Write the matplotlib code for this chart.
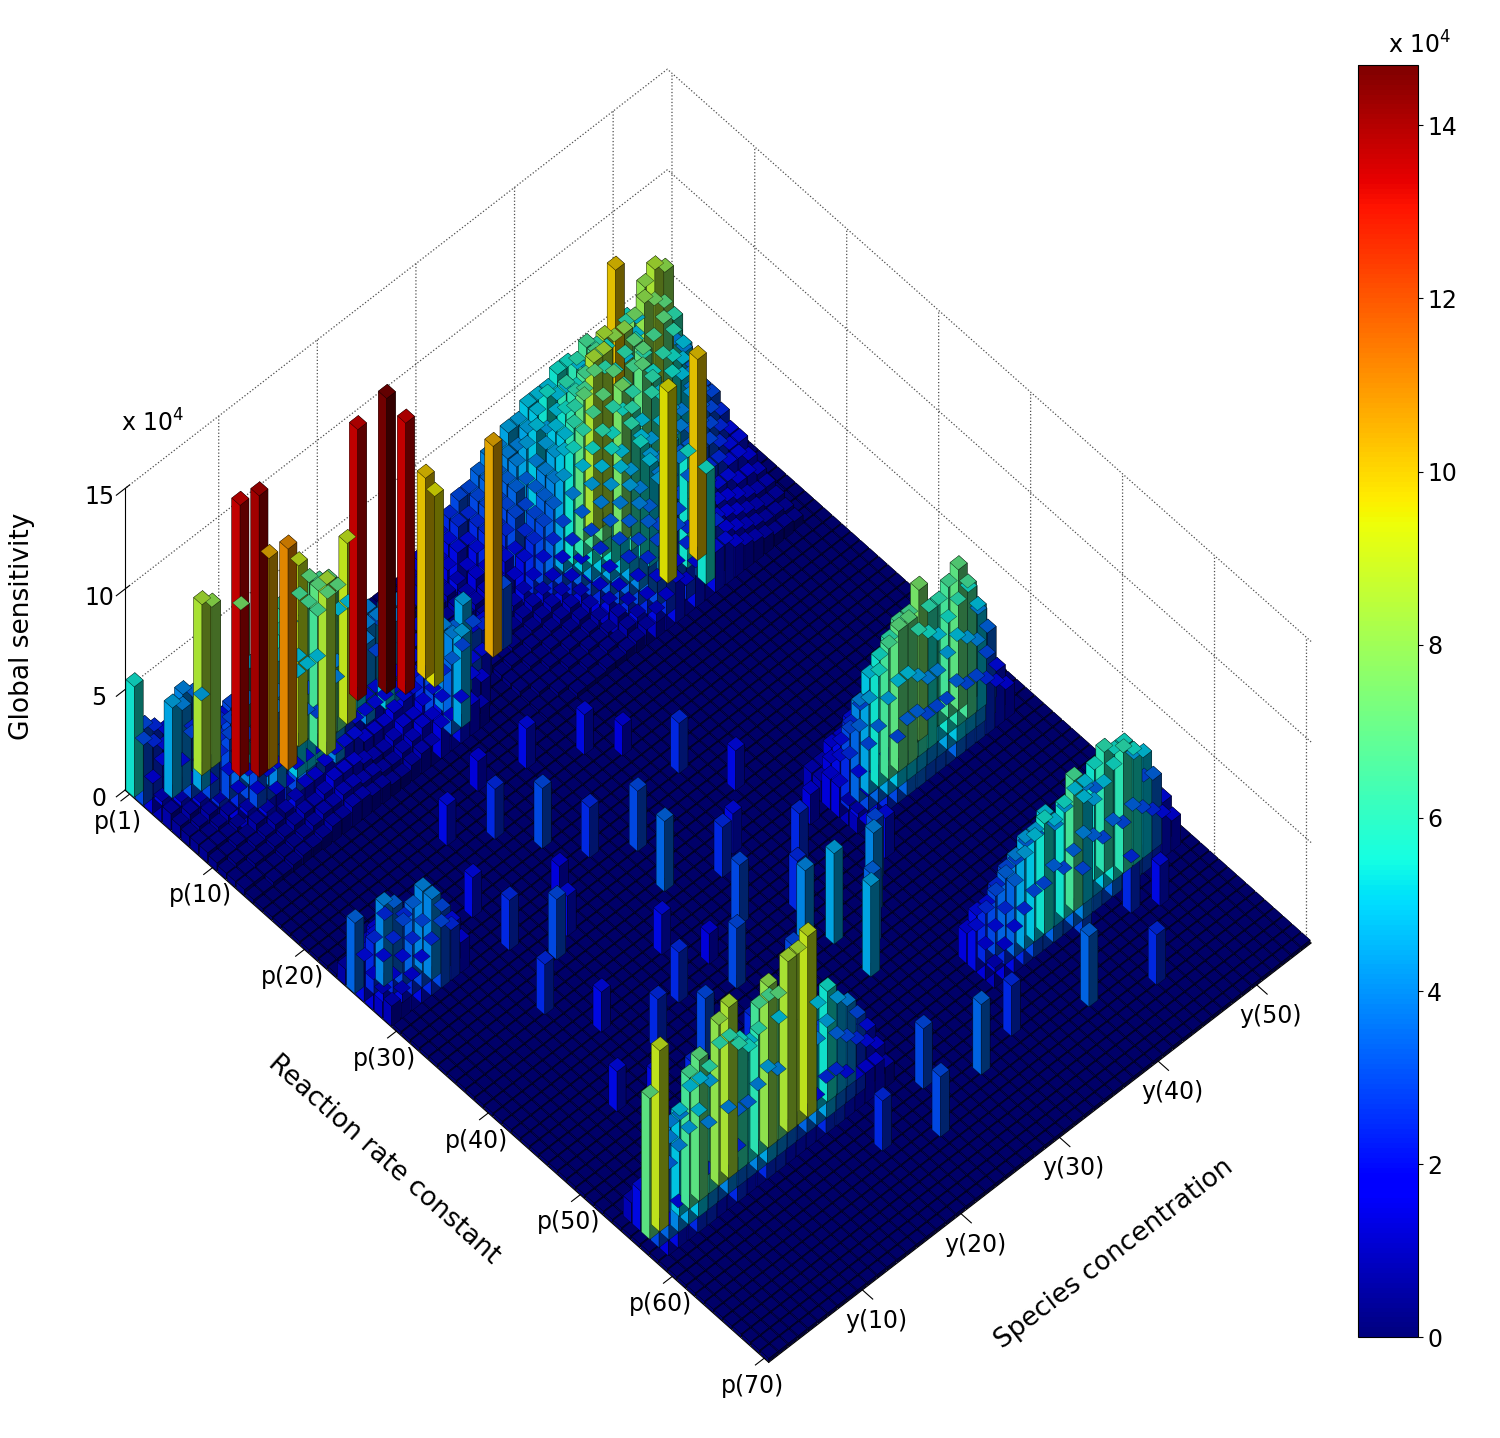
import numpy as np
import matplotlib
matplotlib.use("Agg")
import matplotlib.pyplot as plt
from matplotlib import cm, colors

n_p, n_y = 70, 55
floor_level = 0.15  # x 10^4

# Cluster A: front-left, rows start at p=1, columns start at y=1
clusterA_p0, clusterA_y0 = 1, 1
clusterA = [
    [5.5, 3, 2.5, 2, 1.5, 1.2, 1, .8, .6, .5, .5, .4, .4, .4, .4],
    [3, 2.5, 2, 1.8, 4, 3.5, 2, 1.5, 1, .8, .6, .5, .5, .5],
    [1.5, 2, 4.5, 4, 2.5, 8.5, 8, 2, 1.5, 3.5, 3, 1, .8, .6, .5, .5, .5, .5],
    [1, 1.5, 2, 3, 4.5, 3, 2.5, 3, 7.5, 2, 4.5, 5, 6, 5, 2, 1, .8],
    [.8, 1, 1.5, 2, 3, 2.5, 3, 13.5, 5, 4, 3, 5.5, 5.5, 6.5, 7, 6.5, 4, 3, 2, 1.5],
    [.6, .8, 1, 1.5, 2.5, 3, 3.5, 4, 14, 10.5, 5, 4, 9, 6.5, 7, 7, 5, 5, 13.5, 4, 3, 2, 1.5, 1],
    [.5, .6, .8, 1, 2, 2.5, 3, 3, 4, 4, 11, 5, 3, 6.5, 7, 7, 9, 5, 4, 4, 14.7, 4, 3, 2, 1.5, 1],
    [.5, .5, .6, .8, 1.5, 2, 3, 3, 4, 3, 5, 5, 5, 8.5, 4, 3, 3, 4, 3, 5, 4, 13.5, 2, 10, 2, 1.5, 1],
    [.5, .5, .5, .6, 1, 1.5, 2, 2, 2.5, 3, 3.5, 3, 3, 4, 3, 2.5, 2, 2, 2, 2, 3, 2, 2, 9.5, 2, 1.5],
    [.4, .4, .5, .5, .8, 1, 1.5, 1.5, 2, 2, 2, 2, 2.5, 2.5, 2, 2, 2, 2, 2, 2, 2, 2, 2, 2, 2, 2, 2, 2, 10.5, 3],
    [.3, .4, .4, .5, .6, .8, 1, 1.2, 1.5, 1.5, 1.8, 2, 2, 2, 1.5, 1.5, 1.5, 1.8, 2, 2, 2.5, 3, 4, 3.5, 4.5, 3, 2.5],
    [.3, .3, .4, .4, .5, .6, .8, 1, 1, 1.2, 1.5, 1.5, 1.5, 1.2, 1, 1, 1.2, 1.5, 1.5, 1.8, 2, 2.5, 4, 3, 2, 2],
    [.3, .3, .3, .3, .4, .5, .6, .8, 1, 1, 1.2, 1.2, 1, 1, .8, .8, 1, 1.2, 1.5, 1.5, 2, 3.5, 4.5, 2, 1.5],
    [.2, .2, .3, .3, .4, .5, .5, .6, .8, .8, 1, 1, .8, .8, .6, .6, .8, 1, 1, 1.5, 1.5, 2, 1.5, 1],
]

# Cluster B: back region, rows start at p=2, columns start at y=28
clusterB_p0, clusterB_y0 = 2, 28
clusterB = [
    [1, 1.5, 2, 2, 2.5, 3, 3, 3.5, 4, 4, 4.5, 4.5, 5, 5, 5, 5.5, 5.5, 5, 4.5, 4, 4, 5, 5.5, 5, 4.5, 4],
    [1, 1.2, 1.5, 2, 2.5, 2.5, 3, 3.5, 3.5, 4, 4, 4.5, 5, 5.5, 5, 5, 6, 6.5, 6, 5.5, 5, 6, 5, 4.5, 4, 3.5],
    [.8, 1, 1.5, 2, 2, 2.5, 3, 3, 3.5, 4, 4.5, 5, 4.5, 5, 6, 5.5, 5, 6.5, 5, 10, 5, 5.5, 8, 8.5, 8, 4],
    [.8, 1, 1.2, 1.5, 2, 2.5, 2.5, 3, 3.5, 3.5, 4, 4.5, 5, 5.5, 6, 6.5, 7, 6, 5.5, 6, 7.5, 8, 7.5, 7, 6, 4],
    [.6, .8, 1, 1.5, 1.5, 2, 2.5, 3, 3, 3.5, 4, 4.5, 5, 6, 6.5, 7, 8.5, 8, 8, 7, 6, 6.5, 7, 6, 5, 3.5],
    [.6, .8, 1, 1.2, 1.5, 2, 2, 2.5, 3, 3.5, 4, 5, 6, 7, 8.5, 8.5, 7, 6, 6.5, 7, 5.5, 6, 5.5, 5, 4, 3],
    [.5, .6, .8, 1, 1.2, 1.5, 2, 2.5, 3, 3.5, 4.5, 5.5, 6, 6.5, 7, 6, 5.5, 6, 7, 6, 5, 5.5, 5, 4, 3.5, 3],
    [.5, .5, .6, .8, 1, 1.2, 1.5, 2, 2.5, 3, 4, 5, 5.5, 6, 5.5, 7.5, 6, 5, 6, 5.5, 4.5, 4, 4.5, 3.5, 3, 2.5],
    [.4, .5, .5, .6, .8, 1, 1.2, 1.5, 2, 2.5, 3.5, 4.5, 5, 5.5, 5, 6, 5, 4.5, 5, 4, 4, 3.5, 3.5, 3, 2.5, 2],
    [.4, .4, .5, .5, .6, .8, 1, 1.2, 1.5, 2, 3, 4, 4.5, 5, 4.5, 5.5, 4.5, 4, 4.5, 3.5, 3.5, 3, 3, 2.5, 2, 2],
    [.3, .4, .4, .5, .5, .6, .8, 1, 1.2, 1.5, 2.5, 3.5, 4, 4.5, 4, 5, 4, 3.5, 4, 3, 3, 2.5, 2.5, 2, 2, 1.5],
    [.3, .3, .4, .4, .5, .5, .6, .8, 1, 1.5, 2, 3, 3.5, 4, 3.5, 4.5, 3.5, 3, 3.5, 2.5, 2.5, 2, 2, 1.5, 1.5, 1.2],
    [.3, .3, .3, .4, .4, .5, .5, .6, .8, 1.2, 1.5, 2.5, 3, 3.5, 3, 9.5, 3, 5.5, 10, 2.5, 2, 1.8, 1.5, 1.2, 1, 1],
    [.2, .3, .3, .3, .4, .4, .5, .5, .6, 1, 1.2, 2, 2.5, 3, 2.5, 3, 2.5, 3.5, 3, 2, 1.8, 1.5, 1.2, 1, .8, .8],
    [.2, .2, .3, .3, .3, .4, .4, .5, .5, .8, 1, 1.5, 2, 2.5, 2, 2.5, 2, 5.5, 2.5, 1.8, 1.5, 1.2, 1, .8, .8, .6],
    [.2, .2, .2, .3, .3, .3, .4, .4, .5, .6, .8, 1.2, 1.5, 2, 1.5, 2, 1.5, 2, 2, 1.5, 1.2, 1, .8, .6, .6, .5],
]

# Cluster C: right ridge, rows start at p=35, columns start at y=38
clusterC_p0, clusterC_y0 = 35, 38
clusterC = [
    [1, 1, 1.5, 1.5, 2, 2, 2.5, 2, 2, 1.5, 1.5, 1.5, 1, 1, 1, .8],
    [1, 1.5, 2, 2.5, 3, 3, 3.5, 3, 3, 2.5, 2.5, 2, 2, 1.5, 1.5, 1],
    [1.5, 2, 3, 4, 5, 5.5, 6, 6.5, 6.5, 7.5, 6, 6, 6.5, 7, 5.5, 4],
    [1.5, 2.5, 3.5, 4.5, 5.5, 6.5, 7, 7, 6, 5.5, 5, 5.5, 6, 6.5, 5, 3.5],
    [1, 2, 3, 3.5, 4.5, 5, 5, 4.5, 4, 4, 4.5, 5, 4.5, 4, 3, 2],
    [1, 1.5, 2, 2.5, 3, 3.5, 3.5, 3, 3, 3, 3.5, 3, 3, 2.5, 2, 1.5],
]

# Cluster D: front ridge around p=55..58, columns start at y=2
clusterD_p0, clusterD_y0 = 54, 2
clusterD = [
    [1, 1, 1.5, 1.5, 2, 2, 2.5, 2, 2, 2.5, 3, 3, 3.5, 3.5, 3, 2.5, 2, 2, 1.5, 1.5, 1.5, 1, 1],
    [2, 3, 3.5, 4, 4, 5, 5, 4.5, 6, 6, 5.5, 5, 6.5, 6.5, 5, 4.5, 4, 3.5, 3, 2.5, 2, 2, 1.5],
    [7, 9, 4, 5, 6.5, 7, 6, 8, 8.5, 6, 5.5, 6, 8, 7, 8.5, 8.5, 9, 5, 5.5, 4.5, 4, 3, 2],
    [3, 3.5, 4, 4.5, 5, 4, 3.5, 4, 3.5, 3.5, 4, 4.5, 4, 3.5, 3, 3.5, 4, 4.5, 3.5, 3, 2.5, 2, 1.5],
    [1.5, 2, 2, 2.5, 2.5, 2, 2, 2.5, 2, 2, 2.5, 2.5, 2, 2, 2, 2, 2.5, 2.5, 2, 1.5, 1.5, 1.5, 1],
]

# Cluster E: right-front ridge, rows start at p=54, columns start at y=36
clusterE_p0, clusterE_y0 = 54, 36
clusterE = [
    [1.5, 2, 2, 2.5, 3, 3, 3.5, 3.5, 3, 3, 3.5, 4, 4, 3.5, 3, 2.5, 2, 1.5, 1],
    [2, 2.5, 3, 3.5, 4, 4.5, 4.5, 5, 4, 4.5, 5, 5, 5.5, 6, 5.5, 5.5, 4.5, 3, 2],
    [1.5, 2, 2.5, 3.5, 4.5, 5, 5.5, 5, 5.5, 6.5, 5, 4.5, 5, 5.5, 6, 5.5, 5, 3.5, 2],
    [1, 1.5, 2, 2.5, 3, 3, 3.5, 3, 3.5, 4, 3.5, 3, 3.5, 3, 3.5, 3, 2.5, 2, 1.5],
]

# Cluster F: middle cluster, rows start at p=24, columns start at y=1
clusterF_p0, clusterF_y0 = 24, 1
clusterF = [
    [.8, 1, 1.2, 1.5, 1.5, 1.2, 1, .8],
    [3.5, 1.5, 2, 2.5, 2, 1.5, 1.2, 1],
    [2, 2.5, 4, 3.5, 2.5, 2, 1.5, 1.2],
    [1.5, 2, 2.5, 3, 3.5, 4, 2, 1.5],
    [1.2, 1.5, 2, 2.5, 3, 4, 3, 2],
    [1, 1.2, 1.5, 2, 2.5, 3, 2.5, 1.5],
]

# Scattered mid-field bars: p index, y index, value
scatter_p = [20, 22, 25, 28, 30, 32, 34, 36, 38, 40, 42, 44, 45, 46, 48, 50, 30, 33, 36, 40, 44, 47, 50, 52, 46, 48, 44, 42, 60, 62, 61, 58, 59, 60, 63, 65, 62, 64, 48, 50, 52, 46,
             18, 19, 21, 23, 26, 27, 29, 31, 35, 37, 39, 41, 43]
scatter_y = [15, 18, 20, 22, 25, 16, 24, 28, 20, 26, 18, 22, 28, 30, 24, 30, 12, 14, 10, 12, 14, 16, 18, 20, 34, 32, 36, 30, 26, 30, 34, 44, 48, 50, 40, 45, 20, 24, 10, 12, 14, 8,
             20, 24, 28, 30, 12, 32, 18, 34, 30, 36, 33, 22, 38]
scatter_v = [2, 2.5, 3, 2.5, 3, 2, 3.5, 2.5, 2, 3, 2.5, 3, 4, 4.5, 3, 4.5, 2.5, 3, 2.5, 2, 2.5, 3, 2.5, 3, 4, 3.5, 3, 2.5, 3, 3.5, 2.5, 3, 2.5, 2, 3.5, 2.5, 2.5, 3, 2, 2.5, 2, 2,
             1.5, 2, 2, 1.5, 2, 2.5, 1.5, 2, 2, 1.5, 2.5, 1.5, 2]

p_tick_vals = [1, 10, 20, 30, 40, 50, 60, 70]
y_tick_vals = [10, 20, 30, 40, 50]
z_tick_vals = [0, 5, 10, 15]
cbar_tick_vals = [0, 2, 4, 6, 8, 10, 12, 14]

# ---------------- build matrix ----------------
Z = np.full((n_p, n_y), floor_level)
for p0, y0, rows in [(clusterA_p0, clusterA_y0, clusterA), (clusterB_p0, clusterB_y0, clusterB),
                     (clusterC_p0, clusterC_y0, clusterC), (clusterD_p0, clusterD_y0, clusterD),
                     (clusterE_p0, clusterE_y0, clusterE), (clusterF_p0, clusterF_y0, clusterF)]:
    for i, row in enumerate(rows):
        for j, v in enumerate(row):
            pi, yi = p0 - 1 + i, y0 - 1 + j
            if pi < n_p and yi < n_y:
                Z[pi, yi] = max(Z[pi, yi], v)
for p, y, v in zip(scatter_p, scatter_y, scatter_v):
    Z[p - 1, y - 1] = max(Z[p - 1, y - 1], v)

vmax = 14.7
cmap = cm.jet
norm = colors.Normalize(0, vmax)

fig = plt.figure(figsize=(15, 14.38), dpi=100)
ax = fig.add_axes([-0.004, -0.031, 0.94, 1.04], projection="3d")
ax.set_proj_type("ortho")

P, Y = np.meshgrid(np.arange(1, n_p + 1), np.arange(1, n_y + 1), indexing="ij")
xs = P.ravel() - 0.45
ys = Y.ravel() - 0.45
dz = Z.ravel()
cols = cmap(norm(dz))
ax.bar3d(xs, ys, np.zeros_like(dz), 0.9, 0.9, dz, color=cols, shade=True,
         edgecolor=(0, 0, 0, 0.7), linewidth=0.3)

ax.set_xlim(0.5, n_p + 0.5)
ax.set_ylim(0.5, n_y + 0.5)
ax.set_zlim(0, 15)
ax.set_box_aspect((70, 55, 40), zoom=0.906)
ax.view_init(elev=56, azim=-43)

ax.zaxis.set_ticks_position("lower")
ax.zaxis.set_label_position("lower")

ax.set_xticks(p_tick_vals)
ax.set_xticklabels([f"p({v})" for v in p_tick_vals], fontsize=17)
ax.set_yticks(y_tick_vals)
ax.set_yticklabels([f"y({v})" for v in y_tick_vals], fontsize=17)
ax.set_zticks(z_tick_vals)
ax.set_zticklabels([str(v) for v in z_tick_vals], fontsize=17)
ax.set_xlabel("Reaction rate constant", fontsize=19, labelpad=40)
ax.set_ylabel("Species concentration", fontsize=19, labelpad=40)
ax.set_zlabel("Global sensitivity", fontsize=19, labelpad=25)
for a in (ax.xaxis, ax.yaxis, ax.zaxis):
    a.set_pane_color((1, 1, 1, 0))
    a._axinfo["grid"].update(color="0.3", linestyle=":", linewidth=0.9)
ax.text2D(0.09, 0.715, r"x 10$^4$", transform=ax.transAxes, fontsize=17)

cax = fig.add_axes([0.905, 0.07, 0.04, 0.885])
cb = fig.colorbar(cm.ScalarMappable(norm=norm, cmap=cmap), cax=cax)
cb.set_ticks(cbar_tick_vals)
cb.ax.tick_params(labelsize=17)
cax.text(0.5, 1.005, r"x 10$^4$", transform=cax.transAxes, fontsize=17, ha="left", va="bottom")

fig.savefig("out.png", dpi=100)
